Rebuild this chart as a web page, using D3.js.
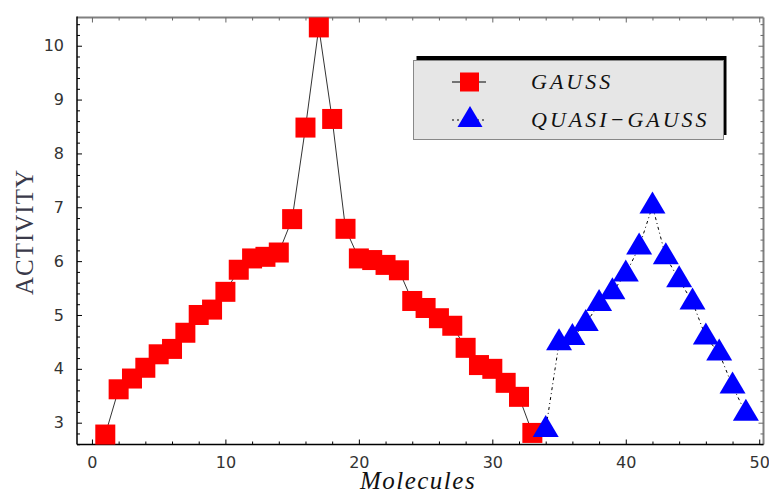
<!DOCTYPE html>
<html>
<head>
<meta charset="utf-8">
<script src="https://cdn.jsdelivr.net/npm/d3@7"></script>
<style>
  body { margin: 0; background: #fff; }
  svg { display: block; }
  .tick text { font-family: "DejaVu Sans", sans-serif; font-size: 16px; fill: #333; }
</style>
</head>
<body>
<svg id="chart" width="769" height="494"></svg>
<script>
// GAUSS series (molecules 1..33)
const gaussX = d3.range(1, 34)
const gaussY = [2.78, 3.62, 3.82, 4.02, 4.27, 4.37, 4.67, 5.0, 5.1, 5.43,
  5.84, 6.05, 6.08, 6.16, 6.78, 8.48, 10.34, 8.64, 6.6, 6.05,
  6.02, 5.93, 5.83, 5.26, 5.13, 4.94, 4.8, 4.39, 4.07, 4.0,
  3.74, 3.48, 2.81]

// QUASI-GAUSS series (molecules 34..49)
const quasiX = d3.range(34, 50)
const quasiY = [2.87, 4.48, 4.58, 4.84, 5.21, 5.43, 5.76, 6.26, 7.02, 6.08,
  5.65, 5.24, 4.59, 4.29, 3.68, 3.17]

const xMajor = [0, 10, 20, 30, 40, 50]
const yMajor = [3, 4, 5, 6, 7, 8, 9, 10]
const seriesNames = ['GAUSS', 'QUASI\u2212GAUSS']

const $svg = d3.select('#chart')

const plotLeft = 77, plotRight = 763.5, plotTop = 17.5, plotBottom = 444.5

const scaleX = d3.scaleLinear().domain([-1.12, 50.32]).range([plotLeft, plotRight])
const scaleY = d3.scaleLinear().domain([2.595, 10.524]).range([plotBottom, plotTop])

const xMinor = d3.range(0, 51, 2).filter(v => v % 10 !== 0)
const yMinor = d3.range(2.6, 10.6, 0.2).map(v => +v.toFixed(1)).filter(v => v % 1 !== 0)

// frame: top & right gray, left & bottom dark
$svg.append('line')
  .attr('x1', plotLeft).attr('x2', plotRight).attr('y1', plotTop).attr('y2', plotTop)
  .attr('stroke', '#808080').attr('stroke-width', 2)
$svg.append('line')
  .attr('x1', plotRight).attr('x2', plotRight).attr('y1', plotTop).attr('y2', plotBottom)
  .attr('stroke', '#808080').attr('stroke-width', 2)

function styleAxis(g, color) {
  g.select('.domain').remove()
  g.selectAll('.tick line').attr('stroke', color).attr('stroke-width', 1)
}

// bottom axis with labels
$svg.append('g')
  .attr('transform', `translate(0,${plotBottom})`)
  .call(d3.axisBottom(scaleX).tickValues(xMajor).tickSize(-5).tickPadding(12).tickFormat(d3.format('d')))
  .call(g => styleAxis(g, '#000'))
$svg.append('g')
  .attr('transform', `translate(0,${plotBottom})`)
  .call(d3.axisBottom(scaleX).tickValues(xMinor).tickSize(-3).tickFormat(''))
  .call(g => styleAxis(g, '#000'))

// top ticks
$svg.append('g')
  .attr('transform', `translate(0,${plotTop})`)
  .call(d3.axisTop(scaleX).tickValues(xMajor).tickSize(-5).tickFormat(''))
  .call(g => styleAxis(g, '#666'))
$svg.append('g')
  .attr('transform', `translate(0,${plotTop})`)
  .call(d3.axisTop(scaleX).tickValues(xMinor).tickSize(-3).tickFormat(''))
  .call(g => styleAxis(g, '#666'))

// left axis with labels
$svg.append('g')
  .attr('transform', `translate(${plotLeft},0)`)
  .call(d3.axisLeft(scaleY).tickValues(yMajor).tickSize(-5).tickPadding(13).tickFormat(d3.format('d')))
  .call(g => styleAxis(g, '#000'))
$svg.append('g')
  .attr('transform', `translate(${plotLeft},0)`)
  .call(d3.axisLeft(scaleY).tickValues(yMinor).tickSize(-3).tickFormat(''))
  .call(g => styleAxis(g, '#000'))

// right ticks
$svg.append('g')
  .attr('transform', `translate(${plotRight},0)`)
  .call(d3.axisRight(scaleY).tickValues(yMajor).tickSize(-5).tickFormat(''))
  .call(g => styleAxis(g, '#666'))
$svg.append('g')
  .attr('transform', `translate(${plotRight},0)`)
  .call(d3.axisRight(scaleY).tickValues(yMinor).tickSize(-3).tickFormat(''))
  .call(g => styleAxis(g, '#666'))

$svg.append('line')
  .attr('x1', plotLeft).attr('x2', plotLeft).attr('y1', plotTop - 1).attr('y2', plotBottom)
  .attr('stroke', '#000').attr('stroke-width', 1.5)
$svg.append('line')
  .attr('x1', plotLeft).attr('x2', plotRight).attr('y1', plotBottom).attr('y2', plotBottom)
  .attr('stroke', '#000').attr('stroke-width', 1.5)

const gaussData = gaussX.map((x, i) => ({ x, y: gaussY[i] }))
const quasiData = quasiX.map((x, i) => ({ x, y: quasiY[i] }))

const line = d3.line().x(d => scaleX(d.x)).y(d => scaleY(d.y))

const $gViz = $svg.append('g')

$gViz.append('path')
  .datum(gaussData)
  .attr('d', line)
  .attr('fill', 'none')
  .attr('stroke', '#333')
  .attr('stroke-width', 1)

$gViz.append('path')
  .datum(quasiData)
  .attr('d', line)
  .attr('fill', 'none')
  .attr('stroke', '#000')
  .attr('stroke-width', 1)
  .attr('stroke-dasharray', '3,3,1,3')

const sq = 20
const triW = 26, triH = 22
const triPath = `M0,${-triH * 2 / 3}L${triW / 2},${triH / 3}L${-triW / 2},${triH / 3}Z`

$gViz.selectAll('rect.gauss')
  .data(gaussData)
  .join('rect')
  .attr('class', 'gauss')
  .attr('x', d => scaleX(d.x) - sq / 2)
  .attr('y', d => scaleY(d.y) - sq / 2)
  .attr('width', sq)
  .attr('height', sq)
  .attr('fill', '#ff0000')

$gViz.selectAll('path.quasi')
  .data(quasiData)
  .join('path')
  .attr('class', 'quasi')
  .attr('d', triPath)
  .attr('transform', d => `translate(${scaleX(d.x)},${scaleY(d.y)})`)
  .attr('fill', '#0000ff')

// axis titles
$svg.append('text')
  .attr('transform', 'translate(33,232) rotate(-90)')
  .attr('text-anchor', 'middle')
  .style('font-family', '"Liberation Serif", serif')
  .style('font-size', '25px')
  .style('letter-spacing', '1px')
  .attr('fill', '#3a3a4a')
  .text('ACTIVITY')

$svg.append('text')
  .attr('x', 418).attr('y', 489)
  .attr('text-anchor', 'middle')
  .style('font-family', '"Liberation Serif", serif')
  .style('font-style', 'italic')
  .style('font-size', '25px')
  .style('letter-spacing', '1.5px')
  .attr('fill', '#111')
  .text('Molecules')

// legend
const $legend = $svg.append('g')
$legend.append('rect')
  .attr('x', 416.5).attr('y', 56).attr('width', 310).attr('height', 79)
  .attr('fill', '#000')
$legend.append('rect')
  .attr('x', 413.5).attr('y', 60.5).attr('width', 310).attr('height', 79)
  .attr('fill', '#e6e6e6').attr('stroke', '#888').attr('stroke-width', 1)

const legY = [82, 120]
$legend.append('line')
  .attr('x1', 452).attr('x2', 486).attr('y1', legY[0]).attr('y2', legY[0])
  .attr('stroke', '#000').attr('stroke-width', 1)
$legend.append('rect')
  .attr('x', 460).attr('y', legY[0] - 9.5).attr('width', 19).attr('height', 19)
  .attr('fill', '#ff0000')
$legend.append('line')
  .attr('x1', 452).attr('x2', 486).attr('y1', legY[1]).attr('y2', legY[1])
  .attr('stroke', '#000').attr('stroke-width', 1).attr('stroke-dasharray', '2,3')
$legend.append('path')
  .attr('d', `M0,-14L12.5,7L-12.5,7Z`)
  .attr('transform', `translate(470,${legY[1]})`)
  .attr('fill', '#0000ff')

$legend.selectAll('text')
  .data(seriesNames)
  .join('text')
  .attr('x', 531)
  .attr('y', (d, i) => legY[i] + 7)
  .style('font-family', '"Liberation Serif", serif')
  .style('font-style', 'italic')
  .style('font-size', '22px')
  .style('letter-spacing', '3px')
  .attr('fill', '#111')
  .text(d => d)
</script>
</body>
</html>
